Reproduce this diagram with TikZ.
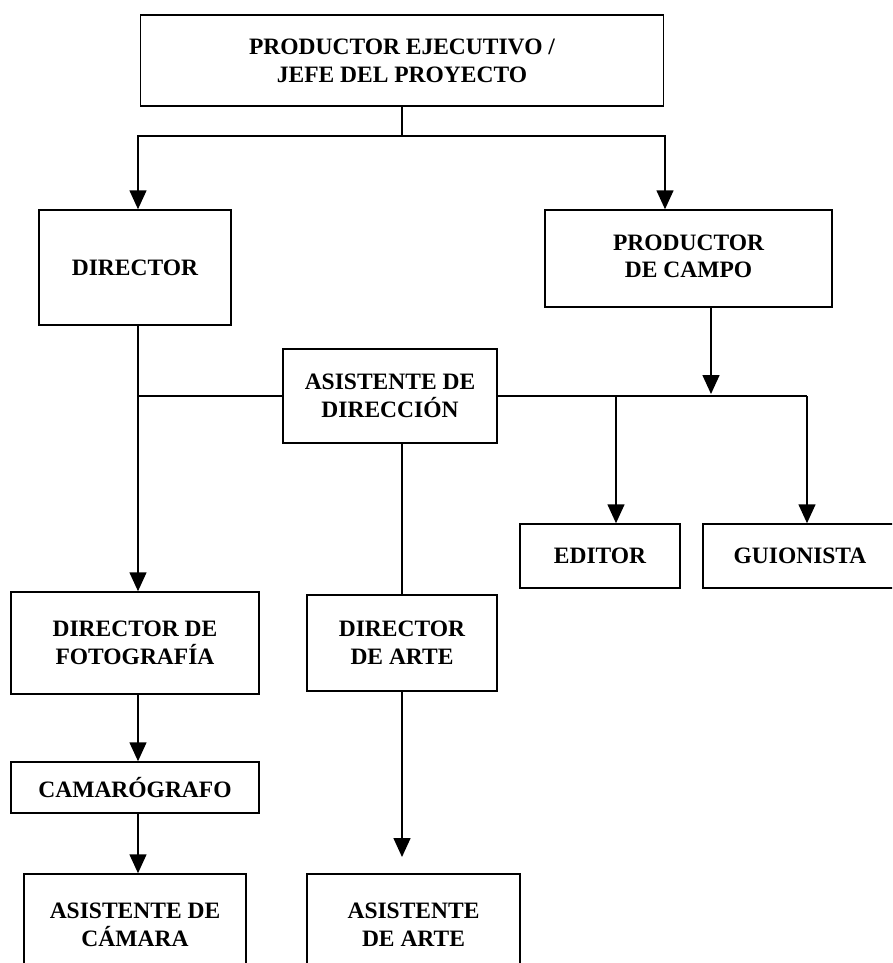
\documentclass[tikz,border=0pt]{standalone}
\usepackage{fontspec}
\setmainfont{Liberation Serif}
\usetikzlibrary{arrows.meta}
\begin{document}
\begin{tikzpicture}[x=1pt,y=-1pt,
  box/.style={draw, line width=1.5pt, rectangle, inner sep=0pt, align=center,
    font=\fontsize{23.5}{28}\selectfont\bfseries},
  link/.style={line width=1.5pt},
  arr/.style={line width=1.5pt, -{Triangle[width=17pt,length=19pt]}}]
\useasboundingbox (0,0) rectangle (892,963);
\clip (0,0) rectangle (892,963);
% boxes
\node[box, minimum width=523pt, minimum height=91pt] (pe) at (402,60.5) {PRODUCTOR EJECUTIVO /\\JEFE DEL PROYECTO};
\node[box, minimum width=192pt, minimum height=115pt] (dir) at (135,267.5) {DIRECTOR};
\node[box, minimum width=287pt, minimum height=97pt] (pdc) at (688.5,258.5) {\raisebox{-4pt}{\begin{tabular}{@{}c@{}}PRODUCTOR\\[-0.5pt]DE CAMPO\end{tabular}}};
\node[box, minimum width=214pt, minimum height=94pt] (ad) at (390,396) {ASISTENTE DE\\DIRECCIÓN};
\node[box, minimum width=160pt, minimum height=64pt] (ed) at (600,556) {EDITOR};
\node[box, minimum width=194pt, minimum height=64pt] (gu) at (800,556) {GUIONISTA};
\node[box, minimum width=248pt, minimum height=102pt] (dfo) at (135,643) {DIRECTOR DE\\FOTOGRAFÍA};
\node[box, minimum width=190pt, minimum height=96pt] (dar) at (402,643) {DIRECTOR\\DE ARTE};
\node[box, minimum width=248pt, minimum height=51pt] (cam) at (135,787.5) {CAMARÓGRAFO};
\node[box, minimum width=222pt, minimum height=102pt] (aca) at (135,925) {ASISTENTE DE\\CÁMARA};
\node[box, minimum width=213pt, minimum height=102pt] (aar) at (413.5,925) {ASISTENTE\\DE ARTE};
% junction coordinates
\coordinate (jt) at (402,136);
\coordinate (jl) at (138,136);
\coordinate (jr) at (665,136);
\coordinate (cl) at (138,396);
\coordinate (je) at (616,396);
\coordinate (jg) at (807,396);
\coordinate (jp) at (711,394);
\coordinate (cc) at (402,396);
\coordinate (aa) at (402,857);
% connectors
\draw[link] (pe.south) -- (jt);
\draw[arr] (jt) -- (jl) -- (jl |- dir.north);
\draw[arr] (jt) -- (jr) -- (jr |- pdc.north);
\draw[arr] (cl |- dir.south) -- (cl |- dfo.north);
\draw[link] (cl) -- (ad.west);
\draw[link] (ad.east) -- (jg);
\draw[arr] (jp |- pdc.south) -- (jp);
\draw[arr] (je) -- (je |- ed.north);
\draw[arr] (jg) -- (jg |- gu.north);
\draw[link] (cc |- ad.south) -- (dar.north);
\draw[arr] (dar.south) -- (aa);
\draw[arr] (cl |- dfo.south) -- (cl |- cam.north);
\draw[arr] (cl |- cam.south) -- (cl |- aca.north);
\end{tikzpicture}
\end{document}
